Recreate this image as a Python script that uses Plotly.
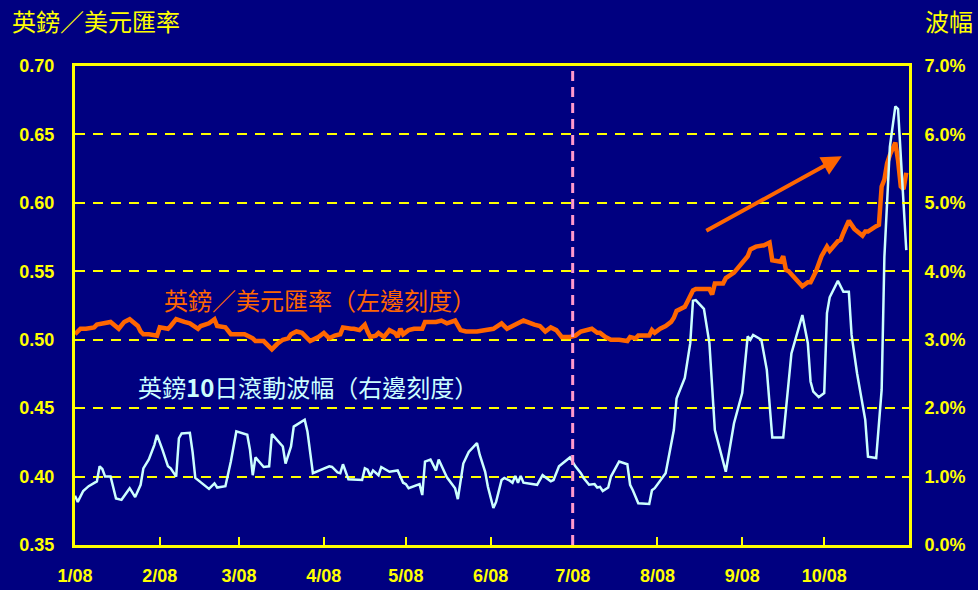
import pandas as pd
import plotly.graph_objects as go

# ---- data (days since 2008-01-01) ----
gbp_days = [0, 2, 4, 7, 8, 11, 13, 16, 18, 20, 23, 24, 25, 27, 30, 31, 34, 35, 37, 40,
            42, 45, 46, 49, 51, 52, 55, 57, 59, 62, 65, 66, 69, 72, 74, 76, 78, 79, 81, 83,
            85, 86, 89, 91, 93, 95, 97, 98, 101, 102, 104, 106, 107, 108, 110, 111, 113, 115, 117, 118,
            119, 120, 122, 124, 127, 128, 132, 134, 136, 139, 141, 143, 147, 151, 153, 156, 158, 160, 162, 164,
            168, 170, 172, 174, 176, 178, 181, 183, 185, 188, 189, 191, 192, 194, 196, 199, 202, 203, 205, 206,
            210, 211, 212, 214, 216, 218, 219, 220, 223, 224, 226, 227, 232, 233, 234, 237, 238, 241, 244, 246,
            247, 249, 252, 254, 255, 258, 259, 260, 261, 264, 266, 268, 269, 271, 273, 275, 276, 279, 280, 281,
            283, 285, 288, 289, 290, 293, 294, 295, 296, 297, 298, 300, 301, 302, 303, 304]
gbp_rate = [0.504, 0.508, 0.508, 0.509, 0.511, 0.512, 0.513, 0.508, 0.513, 0.515, 0.510, 0.506, 0.504, 0.504, 0.503, 0.509, 0.508, 0.510, 0.515, 0.513,
            0.512, 0.508, 0.510, 0.512, 0.515, 0.510, 0.509, 0.504, 0.504, 0.504, 0.501, 0.499, 0.499, 0.493, 0.497, 0.500, 0.501, 0.504, 0.506, 0.505,
            0.501, 0.499, 0.502, 0.505, 0.501, 0.503, 0.504, 0.509, 0.508, 0.508, 0.507, 0.511, 0.506, 0.502, 0.503, 0.505, 0.502, 0.507, 0.505, 0.502,
            0.508, 0.504, 0.507, 0.508, 0.508, 0.513, 0.513, 0.514, 0.512, 0.514, 0.507, 0.506, 0.506, 0.507, 0.508, 0.512, 0.508, 0.510, 0.512, 0.514,
            0.511, 0.510, 0.506, 0.509, 0.507, 0.502, 0.502, 0.503, 0.506, 0.507, 0.508, 0.505, 0.505, 0.502, 0.500, 0.500, 0.499, 0.502, 0.501, 0.503,
            0.503, 0.507, 0.505, 0.508, 0.510, 0.513, 0.516, 0.521, 0.524, 0.528, 0.536, 0.537, 0.537, 0.533, 0.541, 0.541, 0.545, 0.549, 0.556, 0.561,
            0.566, 0.568, 0.569, 0.571, 0.558, 0.557, 0.561, 0.551, 0.550, 0.544, 0.539, 0.542, 0.542, 0.550, 0.561, 0.568, 0.565, 0.572, 0.573, 0.578,
            0.587, 0.581, 0.576, 0.579, 0.579, 0.583, 0.584, 0.612, 0.617, 0.629, 0.635, 0.644, 0.631, 0.612, 0.610, 0.622]

vol_days = [0, 1, 3, 5, 8, 9, 10, 11, 13, 15, 17, 20, 22, 24, 25, 27, 29, 30, 32, 34,
            35, 37, 38, 39, 42, 43, 44, 47, 49, 51, 52, 55, 57, 59, 61, 63, 64, 65, 66, 69,
            71, 72, 76, 77, 79, 80, 84, 85, 87, 91, 93, 94, 96, 97, 98, 100, 104, 105, 106, 107,
            108, 109, 111, 112, 115, 118, 120, 121, 122, 126, 127, 128, 130, 132, 133, 135, 136, 139, 140, 142,
            144, 147, 148, 150, 151, 153, 154, 156, 157, 159, 160, 161, 162, 163, 164, 169, 171, 174, 175, 177,
            181, 183, 185, 186, 188, 190, 191, 192, 193, 195, 196, 199, 202, 203, 204, 206, 210, 211, 212, 216,
            219, 220, 223, 225, 226, 227, 230, 232, 234, 238, 241, 244, 246, 247, 248, 251, 253, 255, 259, 262,
            266, 268, 269, 270, 272, 274, 275, 276, 279, 281, 283, 284, 286, 289, 290, 293, 295, 296, 298, 300,
            301, 302, 304]
vol_pct = [0.72, 0.63, 0.79, 0.86, 0.93, 1.15, 1.11, 1.00, 1.00, 0.68, 0.66, 0.83, 0.70, 0.88, 1.12, 1.25, 1.46, 1.61, 1.39, 1.15,
           1.12, 1.00, 1.56, 1.63, 1.64, 1.36, 0.98, 0.89, 0.82, 0.90, 0.84, 0.86, 1.22, 1.66, 1.63, 1.61, 1.39, 1.02, 1.28, 1.14,
           1.15, 1.62, 1.44, 1.19, 1.44, 1.73, 1.83, 1.66, 1.05, 1.11, 1.15, 1.14, 1.06, 1.05, 1.18, 0.96, 0.96, 0.95, 1.12, 1.10,
           1.01, 1.09, 1.02, 1.14, 1.07, 1.09, 0.91, 0.89, 0.83, 0.89, 0.73, 1.22, 1.25, 1.09, 1.25, 1.06, 0.99, 0.83, 0.67, 1.19,
           1.36, 1.49, 1.32, 1.07, 0.85, 0.54, 0.63, 0.95, 0.98, 0.94, 0.91, 1.01, 0.91, 1.01, 0.91, 0.88, 1.02, 0.93, 0.95, 1.15,
           1.28, 1.15, 1.05, 0.98, 0.88, 0.89, 0.84, 0.85, 0.79, 0.84, 1.00, 1.22, 1.18, 0.88, 0.80, 0.61, 0.60, 0.80, 0.83, 1.05,
           1.68, 2.14, 2.44, 2.95, 3.57, 3.58, 3.45, 2.95, 1.68, 1.07, 1.78, 2.22, 3.05, 3.00, 3.07, 3.00, 2.56, 1.57, 1.57, 2.80,
           3.36, 2.95, 2.39, 2.24, 2.16, 2.22, 3.39, 3.62, 3.86, 3.70, 3.70, 3.07, 2.51, 1.83, 1.29, 1.27, 2.27, 4.21, 5.82, 6.41,
           6.37, 5.68, 4.31]

month_ticks = ["2008-01-01", "2008-02-01", "2008-03-01", "2008-04-01", "2008-05-01",
               "2008-06-01", "2008-07-01", "2008-08-01", "2008-09-01", "2008-10-01"]
month_labels = ["1/08", "2/08", "3/08", "4/08", "5/08", "6/08", "7/08", "8/08", "9/08", "10/08"]

left_ticks = [0.35, 0.40, 0.45, 0.50, 0.55, 0.60, 0.65, 0.70]
right_ticks = [0, 1, 2, 3, 4, 5, 6, 7]
right_labels = ["0.0%", "1.0%", "2.0%", "3.0%", "4.0%", "5.0%", "6.0%", "7.0%"]

start = pd.Timestamp("2008-01-01")
gbp_dates = [start + pd.Timedelta(days=d) for d in gbp_days]
vol_dates = [start + pd.Timedelta(days=d) for d in vol_days]

# ---- style ----
BG = "#000080"
YEL = "#FFFF00"
ORANGE = "#FF6600"
CYAN = "#CCFFFF"
CJK = "Noto Sans CJK TC, Noto Sans CJK SC, sans-serif"
NUMF = "Liberation Sans, Arial, sans-serif"

fig = go.Figure()
fig.add_trace(go.Scatter(x=gbp_dates, y=gbp_rate, mode="lines",
                         line=dict(color=ORANGE, width=4.5), yaxis="y", hoverinfo="skip"))
fig.add_trace(go.Scatter(x=vol_dates, y=vol_pct, mode="lines",
                         line=dict(color=CYAN, width=2.5), yaxis="y2", hoverinfo="skip"))

fig.update_layout(
    width=978, height=590,
    paper_bgcolor=BG, plot_bgcolor=BG,
    margin=dict(l=75, r=69, t=66, b=45, autoexpand=False),
    showlegend=False,
    xaxis=dict(type="date", range=["2008-01-01", "2008-11-01"], automargin=False,
               tickvals=month_ticks, ticktext=month_labels,
               tickfont=dict(family=NUMF, size=18, color=YEL, weight="bold"),
               ticks="inside", ticklen=8, tickwidth=2, tickcolor=YEL,
               ticklabelstandoff=12,
               showline=True, linecolor=YEL, linewidth=3, mirror=True,
               showgrid=False, zeroline=False),
    yaxis=dict(range=[0.35, 0.70], tickvals=left_ticks, automargin=False,
               ticktext=[f"{v:.2f}" for v in left_ticks],
               tickfont=dict(family=NUMF, size=18, color=YEL, weight="bold"),
               ticks="inside", ticklen=7, tickwidth=2, tickcolor=YEL,
               ticklabelstandoff=14,
               showline=True, linecolor=YEL, linewidth=3,
               showgrid=True, gridcolor=YEL, gridwidth=1.5, griddash="10px,8px",
               zeroline=False),
    yaxis2=dict(range=[0, 7], tickvals=right_ticks, ticktext=right_labels, automargin=False,
                overlaying="y", side="right",
                tickfont=dict(family=NUMF, size=18, color=YEL, weight="bold"),
                ticks="inside", ticklen=7, tickwidth=2, tickcolor=YEL,
                ticklabelstandoff=9,
                showline=True, linecolor=YEL, linewidth=3,
                showgrid=False, zeroline=False),
)

# vertical dashed marker at July
fig.add_shape(type="line", xref="x", yref="paper", x0="2008-07-01", x1="2008-07-01",
              y0=0, y1=1, line=dict(color="#FF99CC", width=3, dash="10px,6px"), layer="above")

# axis titles
fig.add_annotation(text="英鎊／美元匯率", xref="paper", yref="paper", x=-0.078, y=1.096,
                   xanchor="left", yanchor="middle", showarrow=False,
                   font=dict(family=CJK, size=24, color=YEL))
fig.add_annotation(text="波幅", xref="paper", yref="paper", x=1.079, y=1.096,
                   xanchor="right", yanchor="middle", showarrow=False,
                   font=dict(family=CJK, size=24, color=YEL))

# series labels
fig.add_annotation(text="英鎊／美元匯率（左邊刻度）", xref="paper", yref="paper", x=0.104, y=0.5115,
                   xanchor="left", yanchor="middle", showarrow=False,
                   font=dict(family=CJK, size=24, color=ORANGE))
fig.add_annotation(text="英鎊<b>10</b>日滾動波幅（右邊刻度）", xref="paper", yref="paper", x=0.073, y=0.33,
                   xanchor="left", yanchor="middle", showarrow=False,
                   font=dict(family=CJK, size=24, color=CYAN))

# trend arrow
fig.add_annotation(x="2008-10-07 10:00", y=0.634, ax="2008-08-18 08:00", ay=0.579,
                   xref="x", yref="y", axref="x", ayref="y", text="",
                   showarrow=True, arrowhead=2, arrowsize=1, arrowwidth=4, arrowcolor=ORANGE)

fig.write_html("out.html",
               config={"displayModeBar": False},
               post_script="document.body.style.margin='0';"
                           "document.body.style.background='#000080';"
                           "document.documentElement.style.overflow='hidden';")
